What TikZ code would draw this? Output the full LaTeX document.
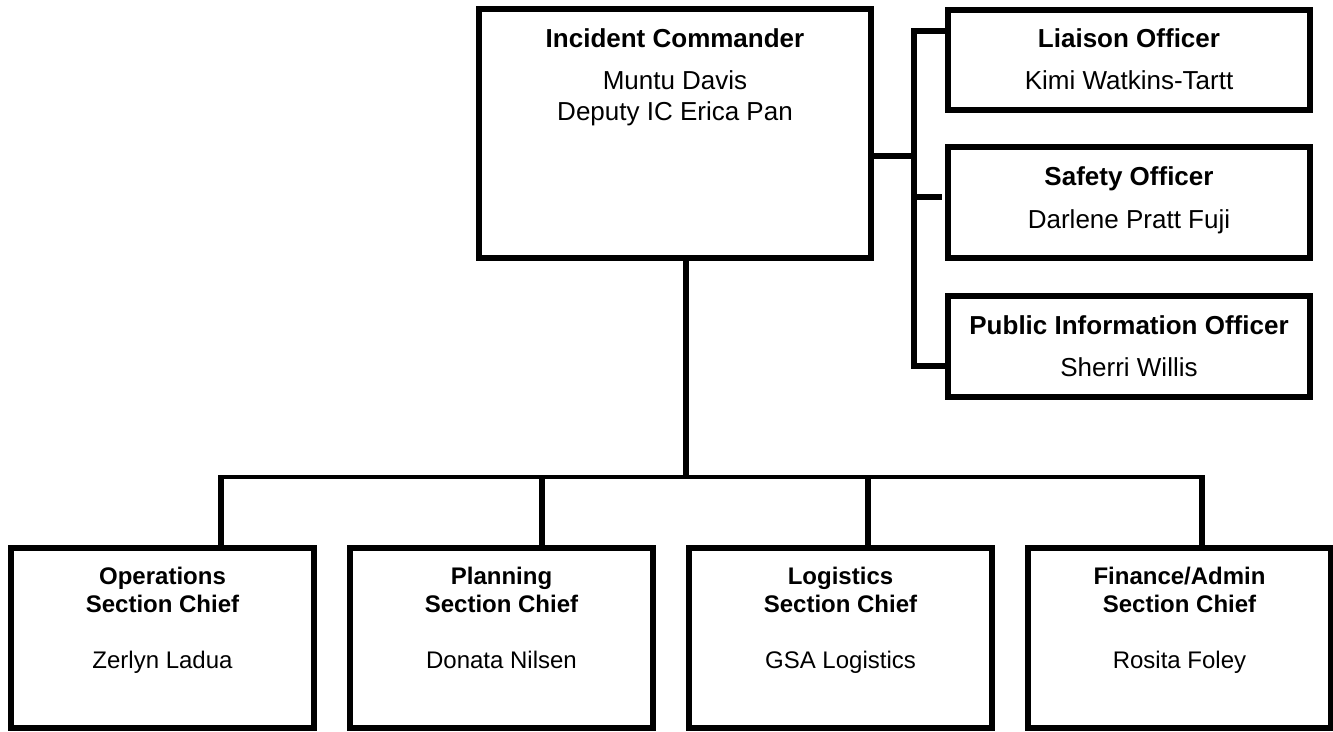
\documentclass[tikz,border=0pt]{standalone}
\usepackage{fontspec}
\setmainfont{Liberation Sans}
\begin{document}
\begin{tikzpicture}[x=1pt,y=-1pt,
  box/.style={draw, line width=5.5pt, inner sep=0pt, outer sep=0pt},
  conn/.style={line width=5.5pt},
  busline/.style={line width=4pt},
  bigtitle/.style={anchor=base, inner sep=0pt, font=\fontsize{26}{31}\selectfont\bfseries},
  bigname/.style={anchor=base, inner sep=0pt, font=\fontsize{26}{31}\selectfont},
  smalltitle/.style={anchor=base, inner sep=0pt, font=\fontsize{24}{28}\selectfont\bfseries},
  smallname/.style={anchor=base, inner sep=0pt, font=\fontsize{24}{28}\selectfont}]
\fill[white] (0,0) rectangle (1333,731);
\useasboundingbox (0,0) rectangle (1333,731);

% top boxes
\node[box, minimum width=392pt, minimum height=249pt] (ic) at (675,133.5) {};
\node[box, minimum width=362pt, minimum height=100pt] (liaison) at (1129,60) {};
\node[box, minimum width=362pt, minimum height=111pt] (safety) at (1129,202.5) {};
\node[box, minimum width=362pt, minimum height=101pt] (pio) at (1129,346.5) {};

% bottom boxes
\node[box, minimum width=303pt, minimum height=180pt] (ops) at (162.5,638) {};
\node[box, minimum width=303pt, minimum height=180pt] (plan) at (501.5,638) {};
\node[box, minimum width=303pt, minimum height=180pt] (log) at (840.5,638) {};
\node[box, minimum width=303pt, minimum height=180pt] (fin) at (1179.5,638) {};

% texts
\node[bigtitle] (ict) at (675,47) {Incident Commander};
\node[bigname] (icn1) at (675,89) {Muntu Davis};
\node[bigname] (icn2) at (675,120) {Deputy IC Erica Pan};

\node[bigtitle] (lit) at (1129,47) {Liaison Officer};
\node[bigname] (lin) at (1129,89) {Kimi Watkins-Tartt};
\node[bigtitle] (sat) at (1129,185) {Safety Officer};
\node[bigname] (san) at (1129,228) {Darlene Pratt Fuji};
\node[bigtitle] (pit) at (1129,334) {Public Information Officer};
\node[bigname] (pin) at (1129,376) {Sherri Willis};

\node[smalltitle] (opt1) at (162.5,584) {Operations};
\node[smalltitle] (opt2) at (162.5,612) {Section Chief};
\node[smallname] (opn) at (162.5,668) {Zerlyn Ladua};
\node[smalltitle] (plt1) at (501.5,584) {Planning};
\node[smalltitle] (plt2) at (501.5,612) {Section Chief};
\node[smallname] (pln) at (501.5,668) {Donata Nilsen};
\node[smalltitle] (lot1) at (840.5,584) {Logistics};
\node[smalltitle] (lot2) at (840.5,612) {Section Chief};
\node[smallname] (lon) at (840.5,668) {GSA Logistics};
\node[smalltitle] (fit1) at (1179.5,584) {Finance/Admin};
\node[smalltitle] (fit2) at (1179.5,612) {Section Chief};
\node[smallname] (fin1) at (1179.5,668) {Rosita Foley};

% right-side connectors
\coordinate (jr) at (914,156);
\coordinate (s1) at (914,31);
\coordinate (s2) at (914,197);
\coordinate (s3) at (914,366);
\draw[conn] (jr -| ic.east) -- (jr);
\draw[conn] (s1 -| liaison.west) -- (s1) -- (s3) -- (s3 -| pio.west);
\draw[conn, shorten >=6pt] (s2) -- (s2 -| safety.west);

% bottom connectors
\coordinate (bus) at (686,477);
\coordinate (d0) at ([xshift=11pt]ic.south);
\coordinate (d1) at ([xshift=58.5pt]ops.north);
\coordinate (d2) at ([xshift=40.5pt]plan.north);
\coordinate (d3) at ([xshift=27.5pt]log.north);
\coordinate (d4) at ([xshift=22.5pt]fin.north);
\draw[conn] (d0) -- ([yshift=-2pt]d0 |- bus);
\draw[busline] (d1 |- bus) -- (d4 |- bus);
\draw[conn] ([yshift=2pt]d1 |- bus) -- (d1);
\draw[conn] ([yshift=2pt]d2 |- bus) -- (d2);
\draw[conn] ([yshift=2pt]d3 |- bus) -- (d3);
\draw[conn] ([yshift=2pt]d4 |- bus) -- (d4);
\end{tikzpicture}
\end{document}
